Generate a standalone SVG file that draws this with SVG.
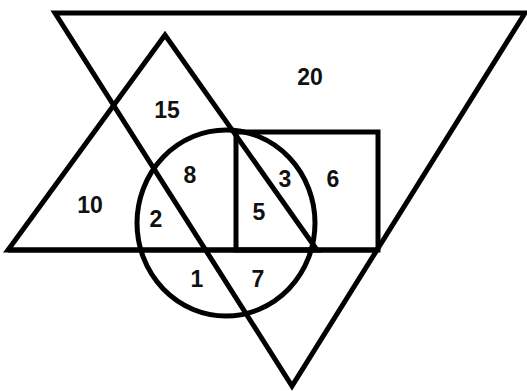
<svg xmlns="http://www.w3.org/2000/svg" width="527" height="391" viewBox="0 0 527 391">
<style>
.s{fill:none;stroke:#000;stroke-width:5;stroke-linejoin:miter}
.t{font-family:"Liberation Sans",Arial,sans-serif;font-weight:bold;font-size:23px;fill:#111;text-anchor:middle}
</style>
<rect width="527" height="391" fill="#fff"/>
<g id="shapes">
<g id="big-triangle"><polygon class="s" points="55,13 525,13 292,386"/></g>
<g id="small-triangle"><polygon class="s" points="165,35 8,250 317,250"/></g>
<g id="base-line"><line class="s" x1="8" y1="250" x2="378" y2="250"/></g>
<g id="square"><rect class="s" x="236" y="132" width="142" height="118"/></g>
<g id="circle"><ellipse class="s" cx="226" cy="223" rx="89" ry="93"/></g>
</g>
<g id="labels">
<text class="t" x="310" y="85">20</text>
<text class="t" x="167" y="118">15</text>
<text class="t" x="190" y="183">8</text>
<text class="t" x="285" y="187">3</text>
<text class="t" x="333" y="187">6</text>
<text class="t" x="90" y="213">10</text>
<text class="t" x="156" y="227">2</text>
<text class="t" x="259" y="220">5</text>
<text class="t" x="197" y="287">1</text>
<text class="t" x="258" y="287">7</text>
</g>
</svg>
